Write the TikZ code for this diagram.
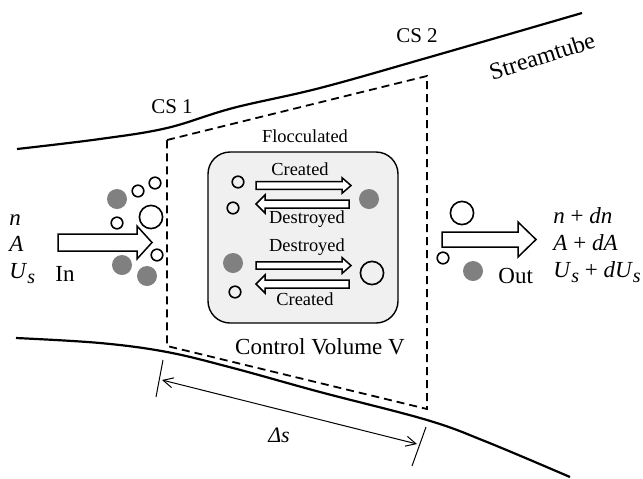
\documentclass[tikz,border=0pt]{standalone}
\usepackage{fontspec}
\setmainfont{Liberation Serif}
\usetikzlibrary{arrows.meta,calc}
\newcommand{\lowsub}[1]{\raisebox{-0.55ex}{\fontsize{10}{11}\selectfont\itshape #1}}
% block arrow: tail x, tip x, centre y, body half, head half, head base x
\newcommand{\blockarrow}[6]{%
  \draw[barrow] (#1,#3-#4) -- (#6,#3-#4) -- (#6,#3-#5) -- (#2,#3)
    -- (#6,#3+#5) -- (#6,#3+#4) -- (#1,#3+#4) -- cycle;}

\begin{document}
\begin{tikzpicture}[
  x=0.5pt,y=-0.5pt,
  stream/.style={line width=1.1pt},
  cv/.style={line width=0.9pt,dash pattern=on 4pt off 2.5pt},
  barrow/.style={draw,line width=0.75pt,fill=white,line join=miter},
  small/.style={circle,draw,line width=0.8pt,inner sep=0pt,minimum size=5.8pt},
  large/.style={circle,draw,line width=0.8pt,inner sep=0pt,minimum size=11.6pt},
  floc/.style={circle,fill=gray,inner sep=0pt,minimum size=10pt},
  big/.style={font=\fontsize{11.5}{13}\selectfont,inner sep=0pt,anchor=base},
  tiny/.style={font=\fontsize{9.2}{11}\selectfont,inner sep=0pt,anchor=base},
  cs/.style={font=\fontsize{10.5}{12}\selectfont,inner sep=0pt,anchor=base},
  dim/.style={line width=0.5pt},
]
\useasboundingbox (0,0) rectangle (643,478);

%% ── Streamtube walls ─────────────────────────────────────────────────────
\draw[stream] plot[smooth,tension=0.6] coordinates
  {(17,149) (100,139) (167,128) (233,108) (320,88) (430,57) (582,13)};
\draw[stream] plot[smooth,tension=0.6] coordinates
  {(16,338) (100,343) (167,352) (233,368) (320,392) (427,420) (487,442) (570,477)};
\node[font=\fontsize{12}{14}\selectfont,rotate=17.6,inner sep=0pt] (ST) at (542,56)
  {Streamtube};

%% ── Control volume ───────────────────────────────────────────────────────
\draw[cv] (167,140) -- (427,76) -- (427,409) -- (167,346) -- cycle;
\node[cs] (CS1) at (172,113) {CS 1};
\node[cs] (CS2) at (417,42) {CS 2};
\node[big] (CV) at (320,354) {Control Volume V};

%% ── Flocculation box ─────────────────────────────────────────────────────
\node[draw,line width=0.7pt,fill=gray!12,rounded corners=11pt,
      minimum width=95pt,minimum height=85.5pt] (BOX) at (303,237.5) {};
\node[tiny] (FL) at (305,142) {Flocculated};

\blockarrow{256}{351}{185.5}{3.8}{7.8}{342}
\blockarrow{349}{256}{204}{4}{9}{265}
\blockarrow{256}{351}{265.5}{3.6}{8}{342}
\blockarrow{349}{256}{284}{4}{9}{265}
\node[tiny] (C1) at (300,175) {Created};
\node[tiny] (D1) at (307,223) {Destroyed};
\node[tiny] (D2) at (307,251) {Destroyed};
\node[tiny] (C2) at (305,305) {Created};

\node[small] (O6) at (238,182) {};
\node[small] (O7) at (233,208) {};
\node[floc]  (G4) at (369,199) {};
\node[floc]  (G5) at (233,263) {};
\node[small] (O8) at (235,292) {};
\node[large] (O9) at (372,273) {};

%% ── Inflow ───────────────────────────────────────────────────────────────
\blockarrow{58}{152}{242.5}{8.5}{16.5}{137}
\node[big,anchor=base west] (NIN) at (9,225) {\textit{n}};
\node[big,anchor=base west] (AIN) at (9,251) {\textit{A}};
\node[big,anchor=base west] (UIN) at (9,278) {\textit{U}\lowsub{s}};
\node[big,anchor=base west] (IN) at (55,281) {In};

\node[floc]  (G1) at (117,199) {};
\node[small] (O1) at (138,191) {};
\node[small] (O2) at (155,183) {};
\node[large] (O3) at (151,217) {};
\node[small] (O4) at (117,223) {};
\node[small] (O5) at (157,255) {};
\node[floc]  (G2) at (122,265) {};
\node[floc]  (G3) at (147,276) {};

%% ── Outflow ──────────────────────────────────────────────────────────────
\blockarrow{442}{536}{239.5}{7.5}{17.5}{518}
\node[large] (O10) at (462,213) {};
\node[small] (O11) at (443,258) {};
\node[floc]  (G6) at (473,271) {};
\node[big,anchor=base west] (OUT) at (498,283) {Out};
\node[big,anchor=base west] (NOUT) at (553,223) {\textit{n} + \textit{dn}};
\node[big,anchor=base west] (AOUT) at (553,250) {\textit{A} + \textit{dA}};
\node[big,anchor=base west] (UOUT) at (553,277)
  {\textit{U}\lowsub{s} + \textit{dU}\lowsub{s}};

%% ── Length of the control volume ─────────────────────────────────────────
\coordinate (DSL) at (162,380);
\coordinate (DSR) at (417,444);
\draw[dim] (163,360) -- (156,397);
\draw[dim] (426,427) -- (412,466);
\draw[dim,{Straight Barb[length=5pt,width=5pt]}-{Straight Barb[length=5pt,width=5pt]}]
  (DSL) -- (DSR);
\node[big,font=\fontsize{11}{13}\selectfont] (DS) at (279,442) {\textit{Δs}};

\end{tikzpicture}
\end{document}
